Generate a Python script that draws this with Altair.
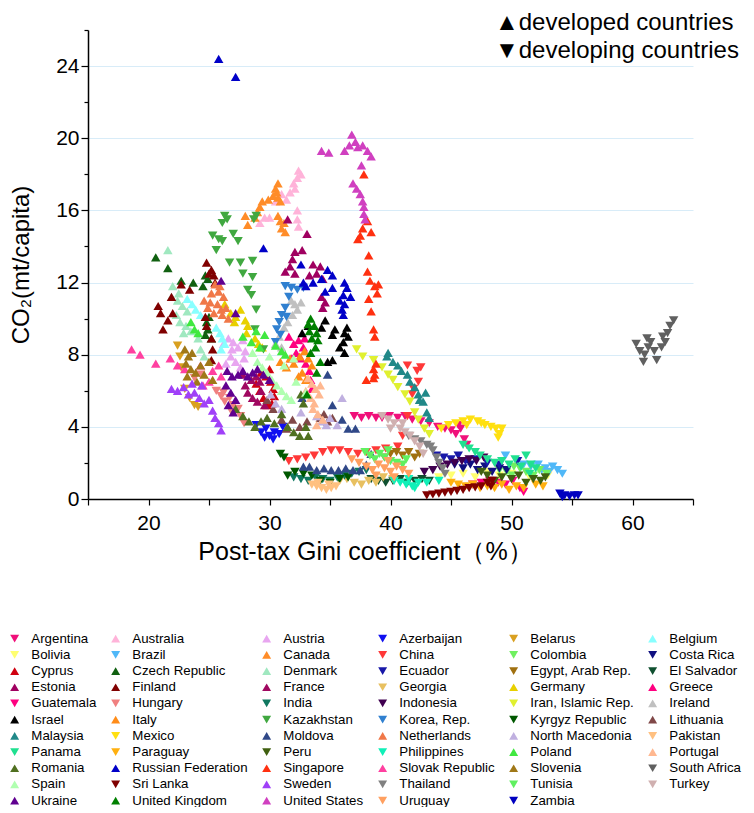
import altair as alt
import pandas as pd

COUNTRIES = ["Argentina", "Australia", "Austria", "Azerbaijan", "Belarus", "Belgium",
             "Bolivia", "Brazil", "Canada", "China", "Colombia", "Costa Rica",
             "Cyprus", "Czech Republic", "Denmark", "Ecuador", "Egypt, Arab Rep.", "El Salvador",
             "Estonia", "Finland", "France", "Georgia", "Germany", "Greece",
             "Guatemala", "Hungary", "India", "Indonesia", "Iran, Islamic Rep.", "Ireland",
             "Israel", "Italy", "Kazakhstan", "Korea, Rep.", "Kyrgyz Republic", "Lithuania",
             "Malaysia", "Mexico", "Moldova", "Netherlands", "North Macedonia", "Pakistan",
             "Panama", "Paraguay", "Peru", "Philippines", "Poland", "Portugal",
             "Romania", "Russian Federation", "Singapore", "Slovak Republic", "Slovenia", "South Africa",
             "Spain", "Sri Lanka", "Sweden", "Thailand", "Tunisia", "Turkey",
             "Ukraine", "United Kingdom", "United States", "Uruguay", "Zambia"]

# U = developed (triangle-up), D = developing (triangle-down)
GROUP = ["D", "U", "U", "D", "D", "U",
         "D", "D", "U", "D", "D", "D",
         "U", "U", "U", "D", "D", "D",
         "U", "U", "U", "D", "U", "U",
         "D", "D", "D", "D", "D", "U",
         "U", "U", "D", "D", "D", "U",
         "U", "D", "U", "U", "U", "D",
         "D", "D", "D", "D", "U", "U",
         "U", "U", "U", "U", "U", "D",
         "U", "D", "U", "D", "D", "D",
         "U", "U", "U", "D", "D"]

COLORS = ["#F0107A", "#FFB3D9", "#E8A6F0", "#1010F0", "#D9A020", "#88FFFF",
          "#FFFF70", "#50B8F8", "#FF8C28", "#FF3838", "#70F060", "#101080",
          "#D00010", "#106010", "#A0E8C0", "#1818A8", "#A07010", "#105030",
          "#A00060", "#800000", "#A00860", "#E8C060", "#E8D000", "#FF0080",
          "#FF0080", "#F08080", "#107860", "#400050", "#E0F030", "#C0C0C0",
          "#000000", "#FF8C18", "#40A840", "#3080D0", "#005800", "#804848",
          "#208888", "#FFE010", "#304888", "#F07848", "#C0B0E0", "#FFC080",
          "#20E090", "#FFB010", "#406010", "#10F0B8", "#40E840", "#FFB890",
          "#507020", "#0000C8", "#FF3010", "#FF40A0", "#A07818", "#606060",
          "#B0FFB0", "#800000", "#A040F8", "#808080", "#60F060", "#D0B0B0",
          "#600090", "#008000", "#D040C0", "#FFA060", "#0000C0"]

# (Gini %, CO2 t/capita)
ARGENTINA = [(37.0,4.6),(37.6,4.5),(38.2,4.6),(38.8,4.5),(39.3,4.5),(39.9,4.6),(40.6,4.5),(41.2,4.6),(41.8,4.4),(42.5,4.3),(43.2,4.2),(43.9,4.0),(44.5,3.9),(45.0,3.8),(45.4,3.6),(45.8,3.9),(46.1,3.3),(46.3,3.0),(45.6,4.1)]
AUSTRALIA = [(32.4,18.2),(32.6,18.0),(32.3,17.8),(32.0,17.5),(32.1,17.2),(31.7,17.0),(31.4,16.6),(30.5,16.5),(31.0,16.9),(30.0,15.6),(29.2,15.3),(29.6,15.6),(32.3,16.0),(32.3,15.5),(32.4,15.1)]
AUSTRIA = [(26.2,8.6),(26.6,8.9),(27.0,8.7),(27.4,8.4),(27.8,8.8),(28.0,8.2),(26.8,7.9),(27.2,7.6),(27.6,7.3),(26.4,7.5),(27.9,7.8),(26.9,8.3)]
AZERBAIJAN = [(28.9,4.1),(29.3,3.7),(29.6,3.4),(30.0,3.5),(30.4,3.7),(30.8,3.6),(31.1,4.0),(29.7,3.9),(30.3,3.3)]
BELARUS = [(22.4,8.5),(22.7,7.3),(23.8,5.2),(23.4,5.6),(24.1,5.1),(23.0,6.1),(22.6,7.9)]
BELGIUM = [(23.2,11.1),(23.6,10.8),(23.9,10.5),(24.3,10.2),(25.6,9.5),(25.9,9.2),(26.1,8.9),(26.3,8.6),(26.0,8.3)]
BOLIVIA = [(44.0,1.2),(45.0,1.3),(46.0,1.4),(47.0,1.2),(48.0,1.5),(49.0,1.3),(50.0,1.4),(51.5,1.2),(53.0,1.3)]
BRAZIL = [(51.0,1.9),(51.6,1.8),(52.2,1.9),(52.8,1.7),(53.4,1.8),(53.8,1.6),(54.2,1.4),(53.1,1.5),(52.5,1.6),(49.5,2.4)]
CANADA = [(28.0,15.7),(28.2,15.2),(28.8,15.6),(29.0,15.9),(29.2,16.2),(29.4,16.5),(29.9,16.6),(30.3,16.8),(30.5,17.2),(30.7,17.5),(30.9,16.5),(30.7,16.7),(30.7,15.7),(30.9,15.4),(31.0,15.0),(31.3,14.8),(31.2,15.3),(30.6,17.0)]
CHINA = [(31.6,2.1),(32.3,2.2),(33.0,2.3),(33.7,2.4),(34.4,2.6),(35.1,2.7),(35.8,2.7),(36.5,2.6),(37.3,2.5),(38.0,2.6),(38.8,2.7),(39.6,2.8),(40.6,2.9),(41.0,3.5),(41.4,4.6),(41.8,5.8),(41.9,6.1),(42.3,6.5),(41.4,7.4),(42.2,7.1),(42.5,7.3)]
COLOMBIA = [(49.0,1.6),(49.6,1.5),(50.2,1.8),(50.7,1.7),(51.2,1.5),(51.8,1.3),(52.3,1.6),(52.9,1.4),(50.0,1.3)]
COSTA_RICA = [(46.0,1.7),(46.6,1.9),(47.2,1.6),(47.8,1.8),(48.4,1.5),(49.0,1.7),(49.6,1.6),(45.3,1.9)]
CYPRUS = [(29.3,7.0),(29.7,6.8),(30.1,6.5),(30.3,6.1),(30.4,5.7),(30.2,5.3),(29.8,5.2),(29.5,5.6),(29.2,6.0),(28.9,6.4),(30.0,7.2)]
CZECH = [(20.6,13.4),(21.6,12.8),(22.7,12.1),(23.7,12.0),(24.7,12.4),(24.5,11.8),(24.9,12.2),(24.8,9.8),(24.9,9.4),(25.0,10.1),(24.7,9.1),(25.2,8.9)]
DENMARK = [(21.6,13.8),(22.0,11.8),(21.9,11.2),(22.4,11.0),(22.8,10.7),(23.2,10.4),(22.3,10.2),(22.6,9.8),(23.1,9.6),(22.9,9.2),(23.5,9.3),(24.1,8.9),(24.3,8.3),(24.6,7.9),(22.5,11.4)]
ECUADOR = [(43.8,2.4),(44.4,2.3),(45.0,2.2),(45.6,2.4),(46.2,2.1),(47.0,2.2),(48.0,2.0),(49.0,1.9),(50.5,2.1)]
EGYPT = [(39.5,2.3),(40.0,2.5),(40.5,2.6),(41.0,2.4),(41.5,2.6),(42.0,2.3),(42.4,2.5)]
EL_SALVADOR = [(38.4,1.1),(39.0,1.0),(39.6,0.9),(40.2,1.0),(40.8,1.1),(41.4,0.9),(42.0,1.0),(42.6,1.1),(43.2,1.0)]
ESTONIA = [(31.5,15.5),(33.1,14.7),(32.7,13.8),(32.1,13.7),(31.9,13.3),(31.7,12.9),(31.3,12.6),(32.1,12.5),(33.6,13.0),(34.2,12.9),(33.9,12.5),(33.3,12.4),(34.4,12.2),(34.3,11.2),(34.6,10.9),(34.4,10.6)]
FINLAND = [(24.8,13.1),(25.2,12.7),(25.0,12.5),(25.4,12.4),(25.5,12.0),(22.7,11.9),(23.4,11.6),(21.9,11.2),(20.8,10.7),(21.0,10.3),(22.0,10.3),(21.6,9.9),(21.2,9.4),(24.7,10.1),(24.8,9.6),(25.2,8.9),(25.3,8.3),(25.2,7.7)]
FRANCE = [(28.0,6.3),(28.2,5.9),(28.6,5.6),(29.0,5.4),(28.5,6.6),(29.3,6.0),(29.6,5.2),(28.9,6.8),(27.8,6.9),(29.2,6.5)]
GEORGIA = [(35.8,1.0),(36.4,1.1),(37.0,0.9),(37.6,0.8),(38.2,1.0),(38.8,0.9),(39.4,1.2),(40.2,1.1)]
GERMANY = [(26.3,10.8),(26.8,10.3),(27.2,10.1),(27.1,9.8),(28.0,9.9),(28.2,9.6),(28.1,9.2),(28.8,8.9),(29.1,8.6),(29.4,8.4),(27.6,10.5)]
GREECE = [(31.6,9.0),(32.0,8.6),(32.4,8.8),(32.8,8.4),(32.2,8.1),(32.6,7.8),(33.0,7.5),(33.3,7.1),(31.8,7.8),(32.9,8.9),(33.4,6.6),(33.5,6.1)]
GUATEMALA = [(47.5,0.9),(48.2,1.0),(48.9,0.9),(49.5,0.8),(50.1,1.0),(50.7,0.6),(51.0,0.4),(46.8,0.8)]
HUNGARY = [(25.6,6.0),(26.0,5.7),(26.3,5.4),(26.7,5.6),(27.0,5.2),(27.4,5.0),(27.6,4.6),(27.9,4.2),(26.9,4.8),(26.2,5.9),(23.8,6.7),(24.3,6.9)]
INDIA = [(32.0,1.2),(32.6,1.1),(33.2,1.0),(33.8,1.2),(34.4,1.1),(35.0,1.0),(35.6,1.2),(36.2,1.3),(36.8,1.4),(37.4,1.5),(38.0,1.6)]
INDONESIA = [(43.5,1.6),(44.1,1.8),(44.7,1.9),(45.3,2.0),(45.9,2.1),(46.5,2.2),(47.1,2.1),(47.7,2.3),(42.8,1.5)]
IRAN = [(37.2,8.3),(37.7,7.9),(38.6,7.7),(39.3,7.3),(39.8,6.9),(40.2,6.6),(40.6,6.2),(41.2,5.8),(41.6,5.4),(42.0,4.8),(42.3,4.4),(42.8,3.9),(43.2,3.6)]
IRELAND = [(31.8,11.0),(32.1,10.8),(32.3,10.5),(31.9,10.2),(31.5,9.8),(31.2,9.5),(30.8,9.0),(30.5,8.6),(31.0,8.4),(32.6,10.9)]
ISRAEL = [(34.6,9.9),(34.3,9.5),(35.4,9.4),(35.2,9.1),(36.4,9.5),(36.2,9.2),(36.5,9.0),(36.1,8.7),(35.8,8.4),(36.2,8.1),(35.2,7.7),(34.8,7.6),(32.7,9.2),(33.2,9.6)]
ITALY = [(30.9,7.6),(31.4,7.3),(32.0,7.5),(32.5,7.9),(32.9,8.2),(33.2,7.8),(32.7,7.0),(33.0,6.6),(32.4,6.8),(31.7,7.8),(33.5,7.4)]
KAZAKHSTAN = [(26.3,15.7),(26.5,15.5),(26.1,15.3),(25.3,14.6),(25.8,14.4),(26.1,14.3),(25.6,13.8),(27.0,14.7),(27.4,14.3),(26.7,13.1),(27.6,13.1),(28.6,13.2),(28.9,15.7),(28.7,15.5),(27.8,12.5),(28.6,12.3),(28.2,11.6),(28.5,11.3),(28.9,10.5),(28.8,9.4),(29.5,8.3)]
KOREA = [(31.3,11.8),(31.8,11.7),(32.3,11.6),(32.8,11.7),(31.6,11.2),(31.3,10.6),(31.0,10.2),(30.8,9.8),(30.6,9.4),(30.9,9.1),(30.5,8.7),(31.4,10.1)]
KYRGYZ = [(31.5,1.3),(32.1,1.5),(32.8,1.4),(33.5,1.3),(34.2,1.0),(35.0,0.9),(35.8,1.1),(36.5,1.2),(31.2,2.3),(30.9,2.5)]
LITHUANIA = [(29.8,5.5),(30.3,5.0),(31.0,4.4),(31.4,3.9),(31.9,4.4),(32.5,4.0),(33.1,4.3),(34.2,4.5),(34.8,4.3),(35.2,4.5),(34.5,4.7)]
MALAYSIA = [(39.8,8.1),(39.7,7.9),(40.2,7.6),(40.6,7.4),(40.9,7.1),(41.4,6.9),(41.6,6.5),(42.0,6.2),(42.3,5.8),(42.9,5.9),(42.4,5.5),(42.7,5.4),(43.0,4.8),(43.2,4.5)]
MEXICO = [(44.2,3.9),(44.8,4.1),(45.4,4.2),(46.0,4.3),(46.6,4.4),(47.2,4.3),(47.8,4.1),(48.3,4.0),(48.7,3.9),(49.0,3.6),(49.2,3.9),(48.9,3.4),(47.5,4.2),(46.3,4.1)]
MOLDOVA = [(35.2,5.2),(36.0,4.4),(36.5,3.9),(37.1,3.9),(33.3,1.8),(33.9,1.6),(34.5,1.7),(35.1,1.6),(35.7,1.6),(36.3,1.7),(36.9,1.6),(37.5,1.6),(38.0,1.9),(38.4,2.5),(32.8,1.8),(34.8,6.9),(32.7,5.6)]
NETHERLANDS = [(25.5,11.9),(25.2,11.4),(25.8,11.5),(26.2,11.2),(24.6,11.0),(25.1,10.9),(25.7,10.8),(26.4,10.6),(26.1,10.2),(26.6,10.0),(25.4,10.3),(24.9,10.6),(25.9,11.8),(26.0,10.5)]
NORTH_MACEDONIA = [(30.1,5.8),(30.5,5.3),(31.0,5.0),(33.9,4.6),(34.3,4.3),(34.7,4.1),(35.0,4.5),(32.6,4.8),(36.0,5.6),(35.6,4.1)]
PAKISTAN = [(33.5,0.8),(33.9,0.7),(34.3,0.6),(34.7,0.5),(35.1,0.6),(35.5,0.7),(34.0,0.9),(34.9,0.8)]
PANAMA = [(46.0,3.0),(46.5,2.8),(47.0,2.6),(47.4,2.4),(48.0,2.2),(48.6,2.0),(49.2,2.1),(49.8,1.9),(50.3,2.2),(50.8,1.8),(51.2,2.4),(51.6,1.9),(52.0,1.7),(51.5,1.4)]
PARAGUAY = [(45.0,0.9),(45.6,0.8),(46.2,0.7),(46.8,0.8),(47.4,0.6),(48.0,0.7),(48.6,0.6),(49.2,0.8),(49.8,0.5),(50.4,0.7),(51.0,0.6),(52.0,0.8),(52.6,0.7)]
PERU = [(48.0,1.3),(48.6,1.0),(49.2,1.2),(50.0,1.1),(50.6,1.3),(51.2,0.9),(51.8,1.1),(52.4,1.0),(52.8,1.2),(47.5,1.5)]
PHILIPPINES = [(40.3,1.0),(40.8,0.9),(41.3,0.8),(41.8,0.7),(42.3,0.9),(42.0,0.6),(41.5,1.1),(43.0,0.9),(44.0,1.0)]
POLAND = [(23.5,9.8),(23.8,9.4),(24.1,9.2),(27.8,9.0),(28.5,8.7),(29.2,8.4),(29.6,9.1),(30.5,8.5),(31.0,8.2),(31.3,8.0),(28.9,9.3)]
PORTUGAL = [(33.2,6.7),(33.5,6.4),(33.8,6.1),(34.1,5.8),(33.4,5.6),(33.7,5.3),(33.0,6.0),(34.2,6.3),(33.6,5.0),(34.0,4.7),(34.4,4.4),(33.9,4.1)]
ROMANIA = [(27.2,5.0),(27.8,4.6),(28.3,4.3),(28.8,4.0),(29.3,4.3),(29.8,4.5),(30.4,4.2),(31.0,4.7),(31.5,4.0),(32.0,3.7),(32.5,3.5),(33.0,4.0),(33.2,3.5),(32.8,5.3),(32.6,5.8)]
RUSSIA = [(25.8,24.4),(27.2,23.4),(29.5,13.9),(32.6,13.0),(34.8,12.7),(35.2,12.4),(34.3,12.2),(33.6,12.0),(32.8,12.0),(33.0,11.8),(35.2,11.7),(34.6,11.5),(36.2,12.0),(36.4,11.7),(36.1,11.3),(36.7,11.2),(35.8,11.0),(36.2,10.8),(36.0,10.5),(36.1,10.2)]
SINGAPORE = [(37.8,18.0),(38.1,15.4),(37.7,15.0),(37.5,14.6),(37.3,14.4),(38.2,13.5),(38.1,12.6),(38.3,12.1),(38.7,11.8),(38.9,11.4),(38.2,11.1),(38.4,10.4),(38.6,9.4),(38.7,9.0),(38.8,7.5),(38.6,7.2),(38.7,6.9),(38.0,6.6),(38.6,6.7),(39.0,11.9),(38.4,14.8)]
SLOVAKIA = [(18.6,8.3),(19.3,8.0),(20.6,7.5),(21.8,7.8),(22.4,7.4),(23.0,7.2),(25.3,7.1),(25.8,7.4),(26.0,6.8),(25.0,6.5),(24.5,6.3),(24.3,7.4)]
SLOVENIA = [(23.0,8.3),(23.3,7.9),(23.6,8.1),(23.1,7.5),(23.5,7.2),(23.9,7.0),(24.3,7.4),(24.6,6.9),(25.0,7.6),(25.3,6.6),(23.2,6.8),(24.0,6.5)]
SOUTH_AFRICA = [(60.3,8.6),(60.6,8.2),(61.0,8.0),(60.9,7.6),(61.3,8.4),(61.5,8.7),(61.8,8.2),(62.0,7.7),(62.4,8.4),(62.7,8.7),(62.9,9.2),(63.1,9.6),(63.4,9.9),(62.5,9.0),(61.2,8.9)]
SPAIN = [(28.6,8.1),(29.0,7.6),(29.4,7.3),(29.8,7.0),(30.2,6.6),(30.6,6.3),(31.0,6.0),(31.4,5.7),(31.8,5.5),(30.0,7.9),(31.2,7.4),(32.0,7.8),(32.2,6.5),(33.0,5.9)]
SRI_LANKA = [(43.0,0.2),(43.5,0.25),(44.0,0.3),(44.5,0.35),(45.0,0.4),(45.5,0.45),(46.0,0.5),(46.5,0.6),(47.0,0.65),(47.5,0.7),(48.0,0.9),(48.4,1.0),(48.3,0.7)]
SWEDEN = [(21.9,6.1),(22.4,6.0),(22.9,6.2),(23.3,5.8),(23.8,5.9),(24.2,5.6),(24.6,5.3),(25.0,5.5),(24.4,6.3),(25.3,4.9),(25.5,4.5),(25.8,4.2),(26.0,3.8),(23.6,6.4)]
THAILAND = [(41.5,3.5),(42.0,3.3),(42.5,3.2),(43.0,3.0),(43.5,2.7),(43.8,2.3),(44.0,2.0),(44.3,1.7),(44.5,1.4),(43.3,2.9)]
TUNISIA = [(37.9,2.6),(38.3,2.4),(38.7,2.2),(39.1,2.5),(39.5,2.3),(40.0,2.1),(40.5,2.0),(41.0,1.9),(41.3,2.2),(39.8,2.7)]
TURKEY = [(39.3,4.6),(39.8,4.4),(40.3,4.2),(40.8,3.9),(41.2,3.7),(41.6,3.5),(42.0,3.2),(42.4,2.9),(42.7,2.5),(41.0,4.2),(40.0,3.9)]
UKRAINE = [(26.0,12.1),(27.2,10.3),(26.5,7.1),(26.9,6.8),(27.4,6.9),(27.8,7.1),(28.2,6.8),(28.6,7.0),(29.0,7.2),(26.4,6.3),(26.8,5.9),(27.2,5.5),(26.6,5.2),(27.0,4.8),(29.5,6.9),(30.0,6.6)]
UK = [(33.4,10.0),(33.2,9.7),(33.7,9.6),(33.3,9.3),(33.9,9.2),(33.5,8.9),(34.0,8.8),(33.8,8.4),(33.4,8.1),(34.2,7.6),(33.9,7.0),(33.1,5.8)]
USA = [(34.3,19.3),(34.9,19.2),(36.2,19.3),(36.6,19.6),(36.8,20.2),(37.1,19.8),(37.3,19.5),(37.7,19.6),(38.1,19.3),(38.4,19.0),(37.6,18.5),(36.9,17.5),(37.2,17.2),(37.5,16.9),(37.7,16.5),(37.8,16.2),(37.8,15.8),(37.9,15.5)]
URUGUAY = [(36.8,2.2),(37.4,2.0),(38.0,1.8),(38.5,1.6),(39.0,1.9),(39.5,1.7),(40.0,1.5),(40.5,1.8),(41.0,1.6),(41.5,1.4),(38.8,1.3),(39.8,2.1),(40.3,1.2)]
ZAMBIA = [(54.0,0.3),(54.4,0.2),(54.8,0.15),(55.2,0.2),(55.5,0.2),(54.2,0.1)]

SERIES = [ARGENTINA, AUSTRALIA, AUSTRIA, AZERBAIJAN, BELARUS, BELGIUM,
          BOLIVIA, BRAZIL, CANADA, CHINA, COLOMBIA, COSTA_RICA,
          CYPRUS, CZECH, DENMARK, ECUADOR, EGYPT, EL_SALVADOR,
          ESTONIA, FINLAND, FRANCE, GEORGIA, GERMANY, GREECE,
          GUATEMALA, HUNGARY, INDIA, INDONESIA, IRAN, IRELAND,
          ISRAEL, ITALY, KAZAKHSTAN, KOREA, KYRGYZ, LITHUANIA,
          MALAYSIA, MEXICO, MOLDOVA, NETHERLANDS, NORTH_MACEDONIA, PAKISTAN,
          PANAMA, PARAGUAY, PERU, PHILIPPINES, POLAND, PORTUGAL,
          ROMANIA, RUSSIA, SINGAPORE, SLOVAKIA, SLOVENIA, SOUTH_AFRICA,
          SPAIN, SRI_LANKA, SWEDEN, THAILAND, TUNISIA, TURKEY,
          UKRAINE, UK, USA, URUGUAY, ZAMBIA]

rows = []
for name, pts in zip(COUNTRIES, SERIES):
    for gx, cy in pts:
        rows.append({"country": name, "gini": gx, "co2": cy})
df = pd.DataFrame(rows)

SHAPES = ["triangle-up" if g == "U" else "triangle-down" for g in GROUP]

FONT = "Liberation Sans"

legend = alt.Legend(orient="none", legendX=-80, legendY=602, columns=6, direction="horizontal",
                    title=None, symbolLimit=0,
                    labelFont=FONT, labelFontSize=13.3, labelColor="black", labelLimit=300,
                    symbolSize=80, symbolStrokeWidth=0, rowPadding=2.2, columnPadding=12,
                    labelOffset=10, padding=0)

points = alt.Chart(df).mark_point(filled=True, size=90, opacity=1, strokeWidth=0).encode(
    x=alt.X("gini:Q",
            scale=alt.Scale(domain=[15, 65], nice=False, zero=False),
            axis=alt.Axis(values=list(range(15, 66, 5)),
                          labelExpr="(datum.value % 10 == 0 && datum.value >= 20 && datum.value <= 60) ? datum.label : ''",
                          title="Post-tax Gini coefficient（%）", grid=False,
                          tickSize=6, labelPadding=7, titlePadding=6, titleX=277, titleAlign="center",
                          titleFontSize=25)),
    y=alt.Y("co2:Q",
            scale=alt.Scale(domain=[0, 26], nice=False),
            axis=alt.Axis(values=list(range(0, 27, 2)),
                          labelExpr="datum.value % 4 == 0 ? datum.label : ''",
                          title="CO₂(mt/capita)", grid=True, gridColor="#D8ECF8",
                          gridOpacity={"condition": {"test": "datum.value % 4 == 0 && datum.value > 0", "value": 1}, "value": 0},
                          tickSize={"condition": {"test": "datum.value % 4 == 0", "value": 7}, "value": 4},
                          titlePadding=22, titleFontSize=24)),
    color=alt.Color("country:N", scale=alt.Scale(domain=COUNTRIES, range=COLORS), legend=legend),
    shape=alt.Shape("country:N", scale=alt.Scale(domain=COUNTRIES, range=SHAPES), legend=legend),
)

chart = points.properties(
    width=605, height=469, padding={"top": 3, "left": 0, "right": 0, "bottom": 0},
    title=alt.TitleParams(text=["▲developed countries", "▼developing countries"],
                          anchor="start", frame="group", dx=407, offset=-34,
                          align="left", fontSize=24, font=FONT, fontWeight="normal",
                          lineHeight=28, color="black"),
).configure_view(stroke=None).configure_axis(
    domainColor="black", domainWidth=1.5, tickColor="black", tickWidth=1.2,
    labelFont=FONT, labelFontSize=21, labelColor="black",
    titleFont=FONT, titleFontWeight="normal", titleColor="black",
)

chart.save("out.html", embed_options={"renderer": "svg", "actions": False})
